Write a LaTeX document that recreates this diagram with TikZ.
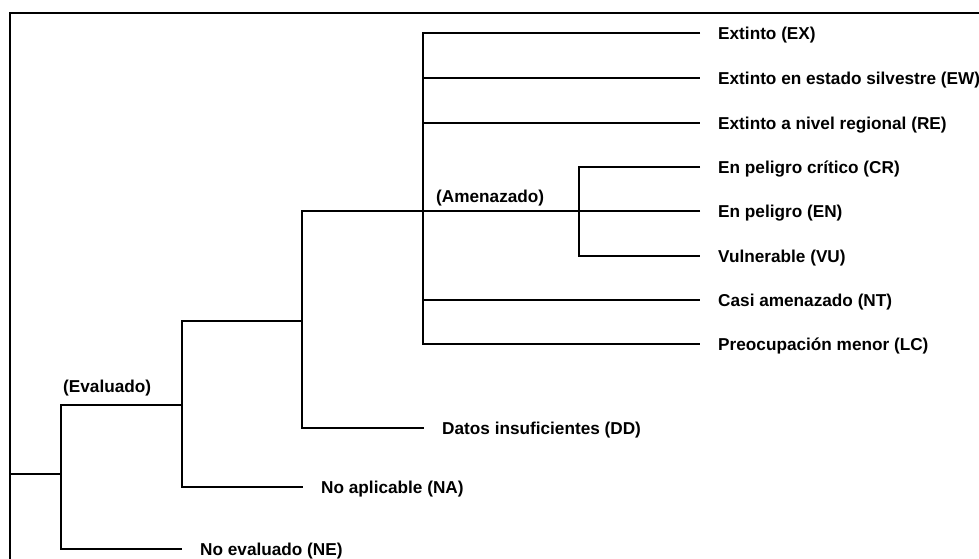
\documentclass[tikz,border=0pt]{standalone}
\usepackage{fontspec}
\setmainfont{Liberation Sans}
\begin{document}
\begin{tikzpicture}[x=1pt,y=-1pt,
  br/.style={line width=1.8pt, line join=miter},
  frame/.style={line width=2.2pt},
  lbl/.style={font=\fontsize{17.2}{20}\selectfont\bfseries, anchor=west, inner sep=0pt, text height=12.3pt, text depth=0pt}]
\useasboundingbox (0,0) rectangle (979,558);
\clip (0,0) rectangle (979,558);
% frame
\coordinate (fb) at (10,570);
\coordinate (fc) at (10,13);
\coordinate (fr) at (995,13);
\draw[frame] (fb) -- (fc) -- (fr);
% junction coordinates
\coordinate (r) at (10,474);
\coordinate (v1t) at (61,405);
\coordinate (v2t) at (182,321);
\coordinate (v3t) at (302,211);
\coordinate (v4t) at (423,33);
\coordinate (v5t) at (579,167);
% labels
\node[lbl] (ne) at (200,549) {No evaluado (NE)};
\node[lbl] (na) at (321,487) {No aplicable (NA)};
\node[lbl] (dd) at (442,428) {Datos insuficientes (DD)};
\node[lbl] (ex) at (718,33) {Extinto (EX)};
\node[lbl] (ew) at (718,78) {Extinto en estado silvestre (EW)};
\node[lbl] (re) at (718,123) {Extinto a nivel regional (RE)};
\node[lbl] (cr) at (718,167) {En peligro crítico (CR)};
\node[lbl] (en) at (718,211) {En peligro (EN)};
\node[lbl] (vu) at (718,256) {Vulnerable (VU)};
\node[lbl] (nt) at (718,300) {Casi amenazado (NT)};
\node[lbl] (lc) at (718,344) {Preocupación menor (LC)};
\node[lbl] (evl) at (63,386) {(Evaluado)};
\node[lbl] (aml) at (436,196) {(Amenazado)};
% tree
\draw[br] (r) -- (v1t |- r);
\draw[br] (v1t -| v2t) -- (v1t) |- ([xshift=-18pt]ne.west);
\draw[br] (v2t -| v3t) -- (v2t) |- ([xshift=-18pt]na.west);
\draw[br] ([xshift=-18pt]en.west) -- (v3t) |- ([xshift=-18pt]dd.west);
\draw[br] ([xshift=-18pt]ex.west) -- (v4t) |- ([xshift=-18pt]lc.west);
\draw[br] (v4t |- ew.west) -- ([xshift=-18pt]ew.west);
\draw[br] (v4t |- re.west) -- ([xshift=-18pt]re.west);
\draw[br] (v4t |- nt.west) -- ([xshift=-18pt]nt.west);
\draw[br] ([xshift=-18pt]cr.west) -- (v5t) |- ([xshift=-18pt]vu.west);
\end{tikzpicture}
\end{document}
